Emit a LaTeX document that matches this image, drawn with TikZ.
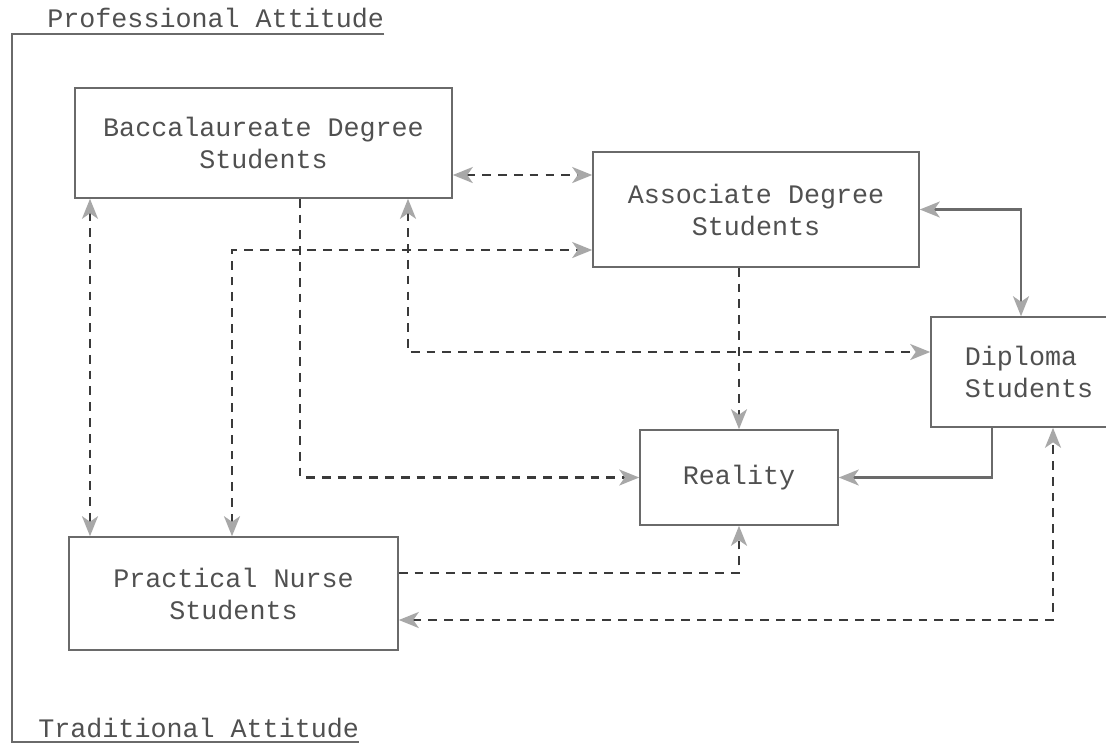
\documentclass[tikz,border=0pt]{standalone}
\definecolor{TypeInk}{HTML}{505050}
\definecolor{RuleGray}{HTML}{6A6A6A}
\definecolor{DashInk}{HTML}{3A3A3A}
\definecolor{TipGray}{HTML}{A8A8A8}
\usepackage{fontspec}
\setmonofont{Liberation Mono}
\usepackage{tikz}
\usetikzlibrary{arrows.meta,positioning,calc}

\begin{document}
\begin{tikzpicture}[yscale=-1,
    >={Stealth[length=4mm,width=3.2mm,inset=1.1mm,color=TipGray]},
    grpbox/.style={draw=RuleGray,line width=0.9pt,align=center,
        font=\fontsize{15.2}{18.2}\selectfont\ttfamily,text=TypeInk},
    attlabel/.style={anchor=west,inner sep=0pt,
        font=\fontsize{15.2}{18.2}\selectfont\ttfamily,text=TypeInk},
    dlink/.style={draw=DashInk,line width=1.4pt,dash pattern=on 5pt off 4pt},
    slink/.style={draw=RuleGray,line width=1.3pt}]
  \useasboundingbox (0,0) rectangle (22.12,14.88);

  % attitude scale
  \node[attlabel] (prof) at (0.94,0.36) {Professional Attitude};
  \node[attlabel] (trad) at (0.76,14.56) {Traditional Attitude};
  \draw[RuleGray,line width=0.9pt] (prof.east |- 0,0.68) -- (0.24,0.68)
       -- (0.24,14.84) -- (trad.east |- 0,14.84);

  % student groups
  \node[grpbox,minimum width=7.54cm,minimum height=2.2cm] (bacc) at (5.27,2.86)
       {Baccalaureate Degree\\Students};
  \node[grpbox,minimum width=6.52cm,minimum height=2.3cm] (assoc) at (15.12,4.19)
       {Associate Degree\\Students};
  \node[grpbox,align=left,minimum width=3.92cm,minimum height=2.2cm] (dipl) at (20.58,7.44)
       {Diploma\\Students};
  \node[grpbox,minimum width=3.96cm,minimum height=1.9cm] (real) at (14.78,9.55) {Reality};
  \node[grpbox,minimum width=6.58cm,minimum height=2.26cm] (prac) at (4.67,11.87)
       {Practical Nurse\\Students};

  % links
  \draw[dlink,<->] (bacc.east |- 0,3.5) -- (assoc.west |- 0,3.5);
  \draw[dlink,<->] (bacc.south -| 1.8,0) -- (prac.north -| 1.8,0);
  \draw[dlink,->] (bacc.south -| 6,0) |- (real.west);
  \draw[dlink,<->] (prac.north -| 4.64,0) |- (assoc.west |- 0,5);
  \draw[dlink,<->] (bacc.south -| 8.16,0) |- (dipl.west |- 0,7.04);
  \draw[dlink,->] (assoc.south -| real.north) -- (real.north);
  \draw[slink,<->] (assoc.east) -| (dipl.north -| 20.42,0);
  \draw[slink,->] (dipl.south -| 19.84,0) |- (real.east);
  \draw[dlink,->] (prac.east |- 0,11.46) -| (real.south);
  \draw[dlink,<->] (prac.east |- 0,12.4) -| (dipl.south -| 21.06,0);
\end{tikzpicture}
\end{document}
